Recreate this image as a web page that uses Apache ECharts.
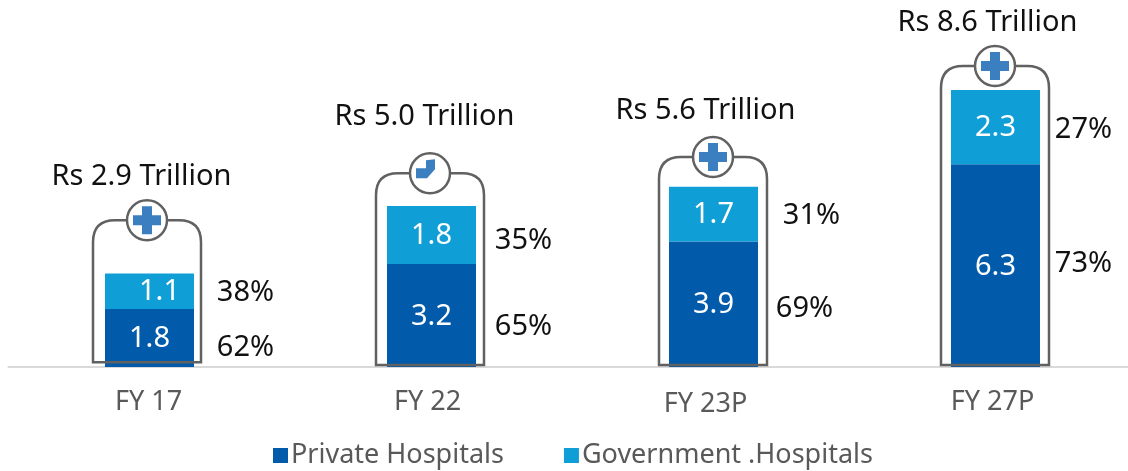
<!DOCTYPE html>
<html>
<head>
<meta charset="utf-8">
<style>
  html, body { margin: 0; padding: 0; background: #fff; }
  #chart { width: 1128px; height: 471px; }
</style>
<script src="https://cdn.jsdelivr.net/npm/echarts@6/dist/echarts.min.js"></script>
</head>
<body>
<div id="chart"></div>
<script>
const categories = ['FY 17', 'FY 22', 'FY 23P', 'FY 27P']
const privateValues = [1.8, 3.2, 3.9, 6.3]
const governmentValues = [1.1, 1.8, 1.7, 2.3]
const totalLabels = ['Rs 2.9 Trillion', 'Rs 5.0 Trillion', 'Rs 5.6 Trillion', 'Rs 8.6 Trillion']
const privateShare = ['62%', '65%', '69%', '73%']
const governmentShare = ['38%', '35%', '31%', '27%']
// top of the bottle outline, in axis units
const frameTops = [4.56, 6.02, 6.52, 9.35]
const frameBottoms = [0.15, 0.06, 0.06, 0.06]
const iconKinds = ['cross', 'elbow', 'cross', 'cross']

const FONT = '"Noto Sans", sans-serif'
const darkBlue = '#015AAA'
const lightBlue = '#0F9ED5'
const iconBlue = '#3B7FC0'
const frameGrey = '#616161'

// hand placement of the annotations, px relative to their anchors
const frameShift = [-2.5, -1.5, -0.5, -0.5]
const totalShift = [[-8, -43], [-7, -56], [-8, -46], [-8, -43]]
const privateShareShift = [[96, 10], [92, 11], [91, 5], [88, -2]]
const governmentShareShift = [[96, 1], [92, 6], [98, 2], [88, 3]]
const axisLabelShift = [1, 4, 8, 3]
const axisLabelDrop = [0, 0, 2, 0]

const crossPoints = [[-5, -14], [5, -14], [5, -5], [14, -5], [14, 5], [5, 5], [5, 14], [-5, 14], [-5, 5], [-14, 5], [-14, -5], [-5, -5]]
const elbowPoints = [[-14, -5], [-4, -5], [-4, -13], [5, -14], [5, -4], [-3, 5], [-14, 5]]

function renderBottle(params, api) {
  const i = api.value(0)
  const top = api.coord([i, frameTops[i]])
  const bottom = api.coord([i, frameBottoms[i]])
  const cx = top[0] + frameShift[i]
  const l = cx - 54
  const r = cx + 54
  const y0 = top[1]
  const y1 = bottom[1]
  const corner = 22
  const pathData = `M${l} ${y1} L${l} ${y0 + corner} Q${l} ${y0} ${l + corner} ${y0} L${r - corner} ${y0} Q${r} ${y0} ${r} ${y0 + corner} L${r} ${y1} Z`
  const icon = iconKinds[i] === 'cross' ? crossPoints : elbowPoints
  return {
    type: 'group',
    children: [
      { type: 'path', shape: { pathData }, style: { fill: 'none', stroke: frameGrey, lineWidth: 2.5 } },
      { type: 'circle', shape: { cx, cy: y0, r: 20 }, style: { fill: '#fff', stroke: frameGrey, lineWidth: 2.5 } },
      { type: 'polygon', shape: { points: icon.map(p => [cx + p[0], y0 + p[1]]) }, style: { fill: iconBlue } },
      {
        type: 'text',
        x: top[0] + totalShift[i][0],
        y: y0 + totalShift[i][1],
        style: { text: totalLabels[i], font: `29px ${FONT}`, fill: '#111', align: 'center', verticalAlign: 'middle' }
      }
    ]
  }
}

function renderShare(params, api) {
  const i = api.value(0)
  const pMid = api.coord([i, privateValues[i] / 2])
  const gMid = api.coord([i, privateValues[i] + governmentValues[i] / 2])
  const pct = (text, mid, shift) => ({
    type: 'text',
    x: mid[0] + shift[0],
    y: mid[1] + shift[1],
    style: { text, font: `29px ${FONT}`, fill: '#111', align: 'center', verticalAlign: 'middle' }
  })
  return {
    type: 'group',
    children: [
      pct(privateShare[i], pMid, privateShareShift[i]),
      pct(governmentShare[i], gMid, governmentShareShift[i])
    ]
  }
}

const chart = echarts.init(document.getElementById('chart'))
chart.setOption({
  animation: false,
  legend: {
    left: 268,
    top: 437,
    itemWidth: 15,
    itemHeight: 15,
    itemGap: 60,
    icon: 'rect',
    data: ['Private Hospitals', 'Government .Hospitals'],
    textStyle: { fontFamily: FONT, fontSize: 27, color: '#595959', padding: [0, 0, 0, -2] }
  },
  grid: { left: 8.5, width: 1128, top: 45, height: 322, outerBoundsMode: 'none' },
  xAxis: {
    type: 'category',
    data: categories.map((value, i) => ({
      value,
      textStyle: { padding: [axisLabelDrop[i], axisLabelShift[i] * 2, 0, 0] }
    })),
    axisLine: { lineStyle: { color: '#D9D9D9', width: 2 } },
    axisTick: { show: false },
    axisLabel: { color: '#595959', fontFamily: FONT, fontSize: 27, margin: 22 }
  },
  yAxis: { type: 'value', min: 0, max: 10, show: false },
  series: [
    {
      name: 'Private Hospitals',
      type: 'bar',
      stack: 'total',
      barWidth: 89,
      data: privateValues,
      itemStyle: { color: darkBlue },
      label: { show: true, position: 'inside', offset: [0, 1], color: '#fff', fontFamily: FONT, fontSize: 29 }
    },
    {
      name: 'Government .Hospitals',
      type: 'bar',
      stack: 'total',
      barWidth: 89,
      data: governmentValues.map((value, i) => (i === 0 ? { value, label: { offset: [10, 0] } } : value)),
      itemStyle: { color: lightBlue },
      label: { show: true, position: 'inside', offset: [0, 1], color: '#fff', fontFamily: FONT, fontSize: 29 }
    },
    {
      type: 'custom',
      renderItem: renderBottle,
      data: categories.map((c, i) => [i]),
      encode: { x: 0 },
      clip: false,
      silent: true,
      z: 5
    },
    {
      type: 'custom',
      renderItem: renderShare,
      data: categories.map((c, i) => [i]),
      encode: { x: 0 },
      clip: false,
      silent: true,
      z: 6
    }
  ]
})
</script>
</body>
</html>
